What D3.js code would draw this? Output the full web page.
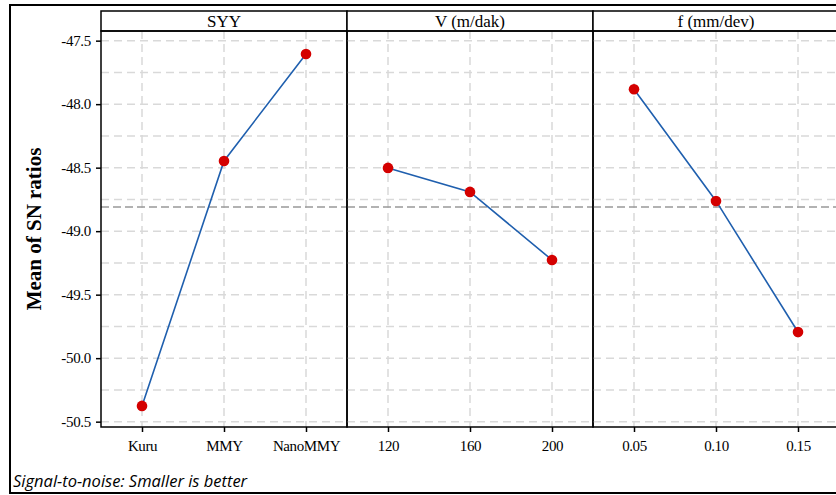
<!DOCTYPE html>
<html>
<head>
<meta charset="utf-8">
<script src="https://cdn.jsdelivr.net/npm/d3@7"></script>
<style>
  body { margin: 0; background: #fff; }
</style>
</head>
<body>
<div id="chart"></div>
<script>
// main effects plot for SN ratios
var factors = ["SYY", "V (m/dak)", "f (mm/dev)"];
var levelsSYY = ["Kuru", "MMY", "NanoMMY"];
var levelsV = ["120", "160", "200"];
var levelsF = ["0.05", "0.10", "0.15"];
var snSYY = [-50.376, -48.447, -47.605];
var snV = [-48.502, -48.691, -49.227];
var snF = [-47.883, -48.762, -49.794];
var yTicks = [-47.5, -48.0, -48.5, -49.0, -49.5, -50.0, -50.5];
var meanSN = d3.mean(snSYY.concat(snV, snF));

var panels = [
  { name: factors[0], levels: levelsSYY, values: snSYY },
  { name: factors[1], levels: levelsV, values: snV },
  { name: factors[2], levels: levelsF, values: snF }
];

var W = 836, H = 495;
var plotL = 101, plotT = 31, plotB = 427, panelW = 246, stripH = 20;
var serif = "'Liberation Serif', 'Times New Roman', serif";

var svg = d3.select("#chart").append("svg")
  .attr("width", W).attr("height", H);

// outer frame
svg.append("rect")
  .attr("x", 10).attr("y", 5)
  .attr("width", W + 20).attr("height", 488)
  .attr("fill", "none").attr("stroke", "#000").attr("stroke-width", 2);

var y = d3.scaleLinear().domain([-50.542, -47.424]).range([plotB, plotT]);
var minorTicks = d3.range(-50.25, -47.4, 0.5);

panels.forEach(function (p, i) {
  var x0 = plotL + i * panelW;
  var x = d3.scalePoint().domain(p.levels).range([x0, x0 + panelW]).padding(0.5);
  var g = svg.append("g");

  // grid
  g.selectAll(".hg").data(yTicks.concat(minorTicks)).enter().append("line")
    .attr("x1", x0).attr("x2", x0 + panelW)
    .attr("y1", function (d) { return y(d); }).attr("y2", function (d) { return y(d); })
    .attr("stroke", "#d9d9d9").attr("stroke-width", 1.5).attr("stroke-dasharray", "8,5");
  g.selectAll(".vg").data(p.levels).enter().append("line")
    .attr("x1", function (d) { return x(d); }).attr("x2", function (d) { return x(d); })
    .attr("y1", plotT).attr("y2", plotB)
    .attr("stroke", "#d9d9d9").attr("stroke-width", 1.5).attr("stroke-dasharray", "8,5");

  // overall mean reference
  g.append("line")
    .attr("x1", x0).attr("x2", x0 + panelW)
    .attr("y1", y(meanSN)).attr("y2", y(meanSN))
    .attr("stroke", "#999").attr("stroke-width", 1.5).attr("stroke-dasharray", "8,4");

  // line + points
  var pts = p.levels.map(function (l, j) { return [x(l), y(p.values[j])]; });
  g.append("path")
    .attr("d", d3.line()(pts))
    .attr("fill", "none").attr("stroke", "#1f5fae").attr("stroke-width", 1.6);
  g.selectAll("circle").data(pts).enter().append("circle")
    .attr("cx", function (d) { return d[0]; }).attr("cy", function (d) { return d[1]; })
    .attr("r", 5.3).attr("fill", "#d40000");

  // x axis
  var xa = g.append("g").attr("transform", "translate(0," + plotB + ")")
    .call(d3.axisBottom(x).tickSize(5).tickPadding(8));
  xa.attr("font-family", null).attr("font-size", null);
  xa.select(".domain").remove();
  xa.selectAll("line").attr("stroke", "#000").attr("stroke-width", 1.5);
  xa.selectAll("text").attr("font-size", 15).attr("fill", "#000")
    .attr("font-family", serif).attr("letter-spacing", -0.4);

  // strip
  g.append("rect")
    .attr("x", x0).attr("y", plotT - stripH)
    .attr("width", panelW).attr("height", stripH)
    .attr("fill", "#fff").attr("stroke", "#000").attr("stroke-width", 1.5);
  g.append("text")
    .attr("x", x0 + panelW / 2).attr("y", plotT - 4.5)
    .attr("text-anchor", "middle").attr("font-size", 17)
    .attr("font-family", serif)
    .text(p.name);

  // panel frame
  g.append("rect")
    .attr("x", x0).attr("y", plotT)
    .attr("width", panelW).attr("height", plotB - plotT)
    .attr("fill", "none").attr("stroke", "#000").attr("stroke-width", 1.5);
});

// y axis
var ya = svg.append("g").attr("transform", "translate(" + plotL + ",0)")
  .call(d3.axisLeft(y).tickValues(yTicks).tickSize(5).tickPadding(5));
ya.attr("font-family", null).attr("font-size", null);
ya.select(".domain").remove();
ya.selectAll("line").attr("stroke", "#000").attr("stroke-width", 1.5);
ya.selectAll("text").attr("font-size", 15).attr("fill", "#000")
  .attr("font-family", serif).attr("letter-spacing", -0.3)
  .text(function (d) { return d3.format(".1f")(d).replace("\u2212", "-"); });

svg.append("text")
  .attr("transform", "translate(41," + (plotT + plotB) / 2 + ") rotate(-90)")
  .attr("text-anchor", "middle").attr("font-size", 21).attr("font-weight", "bold")
  .attr("font-family", serif)
  .text("Mean of SN ratios");

svg.append("text")
  .attr("x", 13).attr("y", 487)
  .attr("font-size", 16.5).attr("font-style", "italic")
  .attr("font-family", "'Open Sans', 'Noto Sans', sans-serif")
  .text("Signal-to-noise: Smaller is better");
</script>
</body>
</html>
